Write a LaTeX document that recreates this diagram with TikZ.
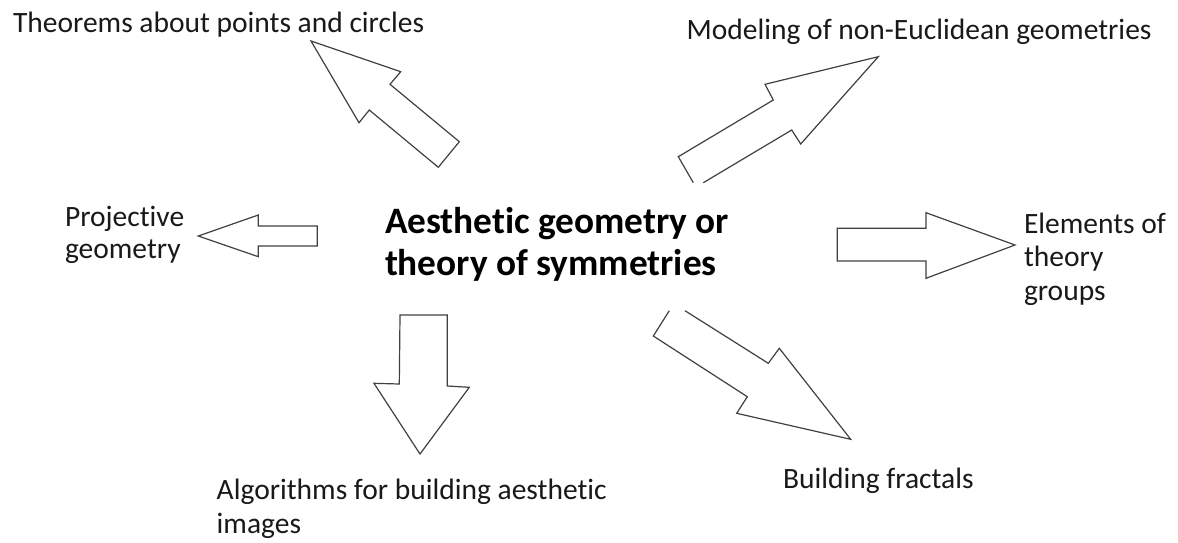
\documentclass[tikz,border=0pt]{standalone}
\usepackage{fontspec}
\setmainfont{Carlito}[Ligatures=NoCommon]
\begin{document}
\begin{tikzpicture}[x=1pt,y=-1pt,
  label/.style={anchor=base west,inner sep=0pt,outer sep=0pt,text=black!90,
    font=\fontsize{29.5}{33.5}\selectfont,align=left},
  title/.style={anchor=base west,inner sep=0pt,outer sep=0pt,text=black,
    font=\fontsize{37.3}{42}\selectfont\bfseries,align=left},
  blockarrow/.style={draw=black!75,line width=1.2pt,line join=miter,fill=none}]
\useasboundingbox (0,0) rectangle (1178,542);

% central topic (multi-line nodes are placed by their last baseline)
\node[title] (core) at (385,275) {Aesthetic geometry or\\theory of symmetries};

% surrounding topics
\node[label] (thm)   at (13,32)     {Theorems about points and circles};
\node[label] (model) at (686.7,39)  {Modeling of non-Euclidean geometries};
\node[label,font=\fontsize{29.5}{31.5}\selectfont] (proj) at (65,258) {Projective\\geometry};
\node[label] (elem)  at (1024,300)  {Elements of\\theory\\groups};
\node[label] (algo)  at (216.7,533) {Algorithms for building aesthetic\\images};
\node[label] (frac)  at (783,488)   {Building fractals};

% block arrows pointing from the centre outwards
% north-west
\draw[blockarrow] (311,41) -- (400.7,71.7) -- (390,84.3) -- (459.3,141.7)
  -- (438.3,167.3) -- (369.3,110) -- (359,122.7) -- cycle;
% north-east (tail left open)
\draw[blockarrow] (693.3,182.7) -- (678.3,156.7) -- (773.3,100) -- (765,84.3)
  -- (878.3,56.7) -- (800.7,144) -- (791.7,130) -- (703.3,182.7);
% west
\draw[blockarrow] (198.3,236) -- (258.3,215) -- (258.3,226) -- (317.3,226)
  -- (317.3,246) -- (258.3,246) -- (258.3,256.7) -- cycle;
% east
\draw[blockarrow] (837.3,228.3) -- (926,228.3) -- (926,212.7) -- (1015,245)
  -- (926,278.3) -- (926,261) -- (837.3,261) -- cycle;
% south
\draw[blockarrow] (400,315) -- (447.3,315) -- (447.3,386) -- (469.3,387.3)
  -- (420,454) -- (374,383.3) -- (399.3,384) -- cycle;
% south-east (tail left open)
\draw[blockarrow] (669.3,310.7) -- (653.3,336) -- (747.3,396.7) -- (736.7,413.3)
  -- (850.7,439.3) -- (779.3,348.3) -- (768.3,363.3) -- (685,310.7);
\end{tikzpicture}
\end{document}
